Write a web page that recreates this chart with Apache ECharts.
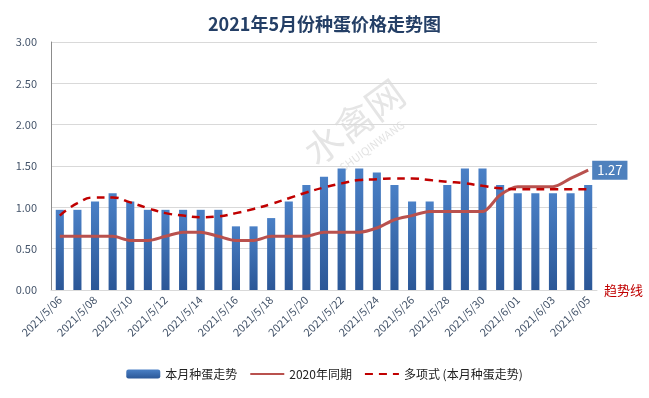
<!DOCTYPE html>
<html>
<head>
<meta charset="utf-8">
<script src="https://cdn.jsdelivr.net/npm/echarts@6/dist/echarts.min.js"></script>
<style>
  html, body { margin: 0; padding: 0; background: #fff; }
  #chart { width: 649px; height: 398px; }
</style>
</head>
<body>
<div id="chart"></div>
<script>
// 日期
const dates = [
    "2021/5/06", "2021/5/07", "2021/5/08", "2021/5/09", "2021/5/10", "2021/5/11",
    "2021/5/12", "2021/5/13", "2021/5/14", "2021/5/15", "2021/5/16", "2021/5/17",
    "2021/5/18", "2021/5/19", "2021/5/20", "2021/5/21", "2021/5/22", "2021/5/23",
    "2021/5/24", "2021/5/25", "2021/5/26", "2021/5/27", "2021/5/28", "2021/5/29",
    "2021/5/30", "2021/5/31", "2021/6/01", "2021/6/02", "2021/6/03", "2021/6/04",
    "2021/6/05"
];
// 本月种蛋走势
const thisMonth = [
    0.97, 0.97, 1.07, 1.17, 1.07, 0.97, 0.97, 0.97, 0.97, 0.97, 0.77, 0.77,
    0.87, 1.07, 1.27, 1.37, 1.47, 1.47, 1.42, 1.27, 1.07, 1.07, 1.27, 1.47,
    1.47, 1.27, 1.17, 1.17, 1.17, 1.17, 1.27
];
// 2020年同期
const lastYear = [
    0.65, 0.65, 0.65, 0.65, 0.6, 0.6, 0.65, 0.7, 0.7, 0.65, 0.6, 0.6,
    0.65, 0.65, 0.65, 0.7, 0.7, 0.7, 0.75, 0.85, 0.9, 0.95, 0.95, 0.95,
    0.95, 1.15, 1.25, 1.25, 1.25, 1.35, 1.45
];
// 多项式趋势线
const trend = [
    0.9, 1.05, 1.12, 1.12, 1.06, 0.99, 0.93, 0.9, 0.88, 0.89, 0.93, 0.98,
    1.04, 1.11, 1.18, 1.24, 1.29, 1.33, 1.34, 1.35, 1.35, 1.33, 1.31, 1.29,
    1.26, 1.23, 1.22, 1.22, 1.22, 1.22, 1.22
];
const yTicks = [0, 3, 0.5];

const font = '"Noto Sans CJK SC", "Noto Sans", sans-serif';
const chart = echarts.init(document.getElementById("chart"));

chart.setOption({
    animation: false,
    backgroundColor: "#fff",
    textStyle: { fontFamily: font },
    title: {
        text: "2021年5月份种蛋价格走势图",
        left: "center",
        top: 10,
        textStyle: { fontSize: 18, fontWeight: "bold", color: "#243F66", fontFamily: font }
    },
    grid: { left: 51, right: 52, top: 42, bottom: 108 },
    legend: {
        bottom: 13,
        left: "center",
        itemWidth: 34,
        itemHeight: 9,
        itemGap: 12,
        textStyle: { fontSize: 12, color: "#222" },
        data: [
            { name: "本月种蛋走势" },
            { name: "2020年同期", itemStyle: { opacity: 0 } },
            { name: "多项式 (本月种蛋走势)", itemStyle: { opacity: 0 } }
        ]
    },
    xAxis: {
        type: "category",
        data: dates,
        axisLine: { lineStyle: { color: "#D9D9D9" } },
        axisTick: { show: false },
        axisLabel: { rotate: 45, interval: 1, fontSize: 11, color: "#44546A", margin: 8 }
    },
    yAxis: {
        type: "value",
        min: yTicks[0],
        max: yTicks[1],
        interval: yTicks[2],
        axisLine: { show: true, lineStyle: { color: "#8C8C8C" } },
        axisTick: { show: false },
        axisLabel: { fontSize: 11, color: "#44546A", formatter: v => v.toFixed(2), margin: 14 },
        splitLine: { lineStyle: { color: "#D9D9D9" } }
    },
    graphic: [
        {
            type: "text", x: 354, y: 122, rotation: 0.63, z: 0,
            style: {
                text: "水禽网", fontSize: 38, fill: "rgba(150,150,150,0.25)",
                fontFamily: font, align: "center", verticalAlign: "middle"
            }
        },
        {
            type: "text", x: 372, y: 146, rotation: 0.63, z: 0,
            style: {
                text: "SHUIQINWANG", fontSize: 11, fill: "rgba(150,150,150,0.28)",
                fontFamily: font, align: "center", verticalAlign: "middle"
            }
        },
        {
            type: "text", right: 6, top: 284,
            style: { text: "趋势线", fontSize: 13, fill: "#C00000", fontFamily: font }
        }
    ],
    series: [
        {
            name: "本月种蛋走势",
            type: "bar",
            data: thisMonth,
            barWidth: "46%",
            itemStyle: {
                color: new echarts.graphic.LinearGradient(0, 0, 0, 1, [
                    { offset: 0, color: "#4A80C6" },
                    { offset: 1, color: "#2B5797" }
                ])
            }
        },
        {
            name: "2020年同期",
            type: "line",
            data: lastYear,
            smooth: 0.3,
            symbol: "none",
            lineStyle: { color: "#B9514E", width: 3 },
            itemStyle: { color: "#B9514E" },
            endLabel: {
                show: true,
                formatter: () => thisMonth[thisMonth.length - 1].toFixed(2),
                backgroundColor: "#4F81BD",
                color: "#fff",
                fontSize: 13,
                padding: [3, 5],
                distance: 4
            }
        },
        {
            name: "多项式 (本月种蛋走势)",
            type: "line",
            data: trend,
            smooth: true,
            symbol: "none",
            lineStyle: { color: "#C00000", width: 2.5, type: [8, 6] },
            itemStyle: { color: "#C00000" }
        }
    ]
});
</script>
</body>
</html>
